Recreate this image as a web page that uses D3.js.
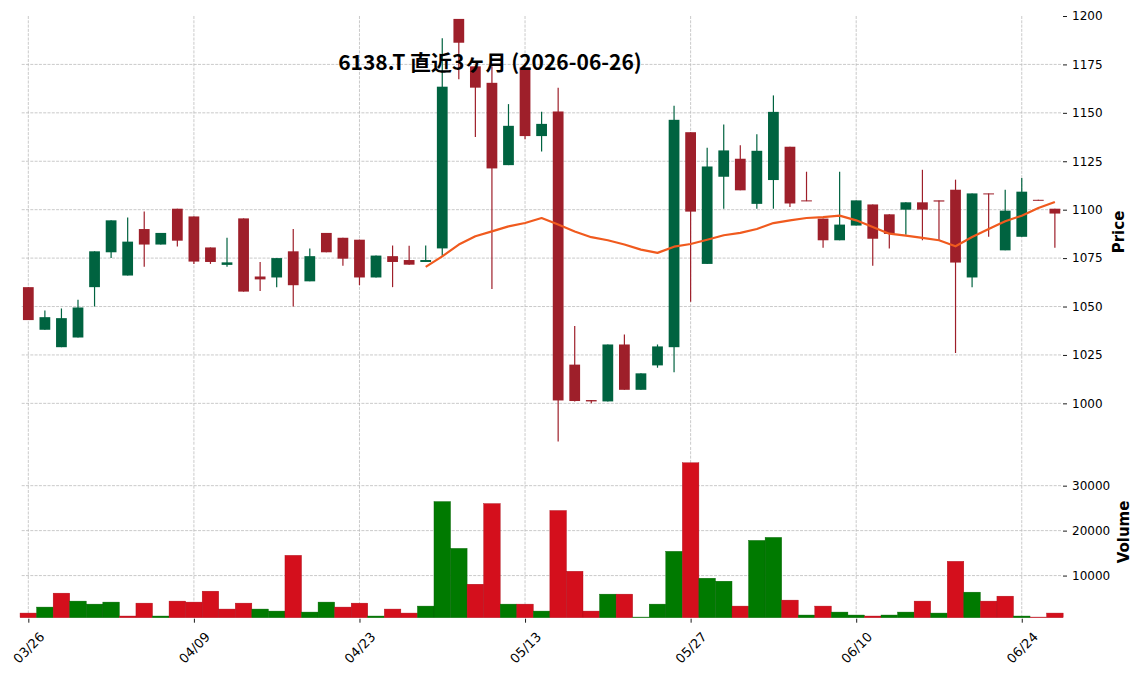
<!DOCTYPE html>
<html>
<head>
<meta charset="utf-8">
<script src="https://cdn.jsdelivr.net/npm/d3@7"></script>
<style>
  body { margin: 0; background: #fff; }
  svg text { font-family: "DejaVu Sans", sans-serif; }
</style>
</head>
<body>
<div id="chart"></div>
<script>
// 6138.T daily candles, last 3 months (63 sessions)
const opens = [1060, 1038, 1029, 1034, 1060, 1078, 1066, 1090, 1082, 1100.5,
  1096.5, 1080.5, 1071.5, 1095.5, 1065.5, 1065, 1078.5, 1063, 1088, 1085.5,
  1084.5, 1065, 1076, 1074, 1073, 1080, 1198.5, 1174, 1165.5, 1123,
  1173.4, 1138, 1150.7, 1020, 1001.7, 1001, 1030.4, 1007, 1019.6, 1029,
  1140, 1072, 1117, 1126.3, 1103, 1115.3, 1132.5, 1104.8, 1095.4, 1084.2,
  1091.8, 1102.7, 1097.6, 1100, 1103.8, 1104.8, 1110.3, 1065, 1108.4, 1079,
  1086, 1105.1, 1100.5];
const highs = [1060, 1048, 1049, 1053.5, 1078.5, 1094.5, 1096, 1099, 1088, 1100.5,
  1096.5, 1080.5, 1085.5, 1095.5, 1073, 1075, 1090, 1080, 1088, 1085.5,
  1084.5, 1076.3, 1081.5, 1081.4, 1081.5, 1188.5, 1198.5, 1174, 1174, 1154.5,
  1173.4, 1150.5, 1163, 1040, 1001.7, 1030.4, 1035.5, 1015.5, 1030.4, 1153.6,
  1140, 1132, 1144, 1133.3, 1139, 1159, 1132.5, 1119.6, 1095.4, 1119.6,
  1104.8, 1102.7, 1097.6, 1103.8, 1120.6, 1104.8, 1115.5, 1108.4, 1108.4, 1110.3,
  1116.3, 1105.1, 1100.5];
const lows = [1043, 1038, 1029, 1034, 1050, 1075, 1066, 1070.5, 1082, 1081,
  1072, 1072, 1070.5, 1057.7, 1058, 1060, 1050, 1063, 1078, 1071,
  1061, 1065, 1060, 1071.6, 1073, 1076, 1167.4, 1137.5, 1059, 1123,
  1136.4, 1130, 980.3, 1001, 1000, 1001, 1007, 1007, 1018.4, 1016,
  1052.4, 1072, 1100.5, 1110, 1100.5, 1100.5, 1101.4, 1104.4, 1080.3, 1084.2,
  1091.8, 1071, 1080, 1087, 1084.2, 1084, 1026, 1060, 1086, 1079,
  1086, 1104.8, 1080.3];
const closes = [1043, 1044.5, 1044, 1049.5, 1078.5, 1094.5, 1083.5, 1082, 1088, 1084,
  1073.2, 1073, 1072.8, 1057.7, 1064, 1075, 1061, 1076, 1078, 1074.7,
  1065, 1076.3, 1073, 1071.6, 1074, 1163.5, 1186.2, 1163, 1121.3, 1143.3,
  1138, 1144.3, 1001.5, 1001.2, 1001, 1030.4, 1007, 1015.5, 1029.4, 1146.4,
  1099, 1122.3, 1130.6, 1110, 1130.4, 1150.5, 1103.2, 1104.4, 1084.2, 1092.3,
  1104.8, 1085, 1087.5, 1103.8, 1100, 1104.2, 1072.7, 1108.4, 1107.9, 1099.5,
  1109.3, 1104.8, 1098];
const volumes = [1660, 2990, 6090, 4320, 3650, 4100, 1000, 3870, 1000, 4320,
  4100, 6530, 2550, 3870, 2550, 2100, 14500, 1880, 4100, 2990,
  3870, 1000, 2550, 1660, 3210, 26460, 16050, 8080, 26010, 3650,
  3650, 2100, 24470, 10960, 2100, 5870, 5870, 770, 3650, 15390,
  35090, 9410, 8750, 3210, 17820, 18490, 4540, 1220, 3210, 1880,
  1220, 1000, 1220, 1880, 4320, 1660, 13170, 6310, 4320, 5420,
  1000, 770, 1660];
// 25-day moving average as drawn (starts at the 25th session)
const ma25 = [null, null, null, null, null, null, null, null, null, null,
  null, null, null, null, null, null, null, null, null, null,
  null, null, null, null, 1070.5, 1075.9, 1082, 1086.3, 1088.8, 1091.4,
  1093.1, 1095.7, 1092.3, 1088.7, 1085.8, 1084.2, 1082, 1079.4, 1077.7, 1080.9,
  1082.3, 1084.5, 1086.8, 1088, 1090, 1093.1, 1094.5, 1095.7, 1096.2, 1096.9,
  1094.5, 1091.1, 1087.6, 1086.6, 1085.4, 1084.2, 1081.1, 1085.9, 1090, 1094,
  1096.9, 1100.9, 1104];
const tickIndex = [0, 10, 20, 30, 40, 50, 60];
const tickLabels = ["03/26", "04/09", "04/23", "05/13", "05/27", "06/10", "06/24"];
const priceTicks = [1000, 1025, 1050, 1075, 1100, 1125, 1150, 1175, 1200];
const volumeTicks = [10000, 20000, 30000];

const title = "6138.T 直近3ヶ月 (2026-06-26)";

const colors = {
  candleUp: "#006340",
  candleDown: "#9e1f2a",
  volUp: "#007a00",
  volDown: "#d40f1c",
  ma: "#f05a1e",
  grid: "#bdbdbd",
};

const width = 1145;
const height = 675;

const candles = d3.range(opens.length).map((i) => ({
  i,
  open: opens[i],
  high: highs[i],
  low: lows[i],
  close: closes[i],
  volume: volumes[i],
  up: closes[i] >= opens[i],
  // volume bars follow close vs previous close
  volUp: i === 0 ? closes[i] >= opens[i] : closes[i] >= closes[i - 1],
}));

const x = d3.scaleLinear().domain([-0.4, 62.4]).range([21.7, 1061.5]);
const step = x(1) - x(0);
const yPrice = d3.scaleLinear().domain([978.5, 1200]).range([445, 16]);
const yVol = d3.scaleLinear().domain([630, 38600]).range([617.7, 447]);

const svg = d3
  .select("#chart")
  .append("svg")
  .attr("width", width)
  .attr("height", height)
  .style("background", "#fff");

const [left, right] = x.range();

// grid
const grid = svg
  .append("g")
  .attr("stroke", colors.grid)
  .attr("stroke-width", 0.8)
  .attr("stroke-dasharray", "3,1.3");

grid
  .selectAll(".hp")
  .data(priceTicks.filter((t) => t < 1200))
  .enter()
  .append("line")
  .attr("x1", left)
  .attr("x2", right)
  .attr("y1", (d) => yPrice(d))
  .attr("y2", (d) => yPrice(d));

grid
  .selectAll(".hv")
  .data(volumeTicks)
  .enter()
  .append("line")
  .attr("x1", left)
  .attr("x2", right)
  .attr("y1", (d) => yVol(d))
  .attr("y2", (d) => yVol(d));

tickIndex.forEach((t) => {
  grid
    .append("line")
    .attr("x1", x(t))
    .attr("x2", x(t))
    .attr("y1", yPrice.range()[1])
    .attr("y2", yPrice.range()[0]);
  grid
    .append("line")
    .attr("x1", x(t))
    .attr("x2", x(t))
    .attr("y1", yVol.range()[1])
    .attr("y2", yVol.range()[0]);
});

// candles
const bodyWidth = step * 0.65;
const candleG = svg.append("g");

candleG
  .selectAll("line")
  .data(candles)
  .enter()
  .append("line")
  .attr("x1", (d) => x(d.i))
  .attr("x2", (d) => x(d.i))
  .attr("y1", (d) => yPrice(d.high))
  .attr("y2", (d) => yPrice(d.low))
  .attr("stroke", (d) => (d.up ? colors.candleUp : colors.candleDown))
  .attr("stroke-width", 1.2);

candleG
  .selectAll("rect")
  .data(candles)
  .enter()
  .append("rect")
  .attr("x", (d) => x(d.i) - bodyWidth / 2)
  .attr("width", bodyWidth)
  .attr("y", (d) => yPrice(Math.max(d.open, d.close)))
  .attr("height", (d) =>
    Math.max(1, Math.abs(yPrice(d.open) - yPrice(d.close)))
  )
  .attr("fill", (d) => (d.up ? colors.candleUp : colors.candleDown));

// moving average
const maLine = d3
  .line()
  .defined((d) => d != null)
  .x((d, i) => x(i))
  .y((d) => yPrice(d));

svg
  .append("path")
  .datum(ma25)
  .attr("d", maLine)
  .attr("fill", "none")
  .attr("stroke", colors.ma)
  .attr("stroke-width", 2.2)
  .attr("stroke-linejoin", "round");

// volume
svg
  .append("g")
  .selectAll("rect")
  .data(candles)
  .enter()
  .append("rect")
  .attr("x", (d) => x(d.i) - step / 2)
  .attr("width", step)
  .attr("y", (d) => yVol(d.volume))
  .attr("height", (d) => yVol.range()[0] - yVol(d.volume))
  .attr("fill", (d) => (d.volUp ? colors.volUp : colors.volDown))
  .attr("stroke", (d) =>
    d3.color(d.volUp ? colors.volUp : colors.volDown).darker(0.6)
  )
  .attr("stroke-width", 0.4);

// axes
function styleAxis(g, size) {
  g.select(".domain").remove();
  g.selectAll(".tick line").attr("stroke", "#000").attr("stroke-width", 0.9);
  g.selectAll(".tick text")
    .attr("fill", "#000")
    .style("font-family", "'DejaVu Sans', sans-serif")
    .style("font-size", (size || 12) + "px");
}

svg
  .append("g")
  .attr("transform", `translate(${right + 1.5},0)`)
  .call(
    d3
      .axisRight(yPrice)
      .tickValues(priceTicks)
      .tickFormat(d3.format("d"))
      .tickSize(4)
      .tickPadding(5)
  )
  .call(styleAxis);

svg
  .append("g")
  .attr("transform", `translate(${right + 1.5},0)`)
  .call(
    d3
      .axisRight(yVol)
      .tickValues(volumeTicks)
      .tickFormat(d3.format("d"))
      .tickSize(4)
      .tickPadding(5)
  )
  .call(styleAxis);

svg
  .append("g")
  .attr("transform", `translate(0,${yVol.range()[0] + 1})`)
  .call(
    d3
      .axisBottom(x)
      .tickValues(tickIndex)
      .tickFormat((d, i) => tickLabels[i])
      .tickSize(4)
  )
  .call(styleAxis, 13)
  .call((g) =>
    g
      .selectAll(".tick text")
      .attr("y", 0)
      .attr("dy", "0.35em")
      .attr("text-anchor", "middle")
      .attr("transform", "translate(0,29) rotate(-45)")
  );

// labels
svg
  .append("text")
  .attr("transform", "translate(1119,232) rotate(-90)")
  .attr("text-anchor", "middle")
  .attr("dy", "0.35em")
  .style("font-size", "15px")
  .style("font-weight", "bold")
  .text("Price");

svg
  .append("text")
  .attr("transform", "translate(1124,532) rotate(-90)")
  .attr("text-anchor", "middle")
  .attr("dy", "0.35em")
  .style("font-size", "15px")
  .style("font-weight", "bold")
  .text("Volume");

svg
  .append("text")
  .attr("x", 490)
  .attr("y", 69.5)
  .attr("text-anchor", "middle")
  .style("font-family", "'Noto Sans CJK JP', sans-serif")
  .style("font-size", "21px")
  .style("font-weight", "bold")
  .attr("fill", "#000")
  .text(title);
</script>
</body>
</html>
